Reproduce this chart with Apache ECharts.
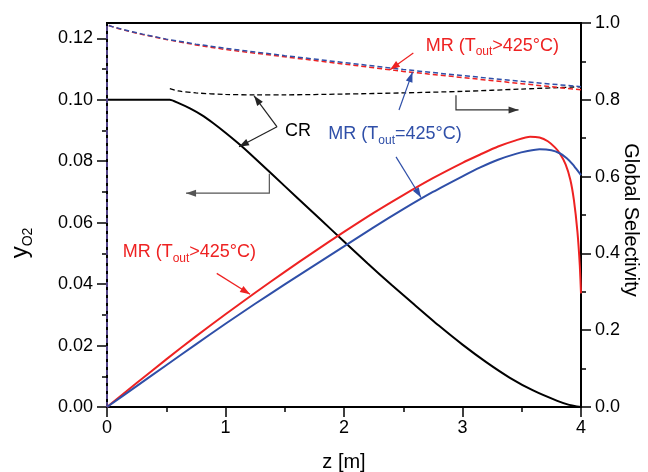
<!DOCTYPE html>
<html><head><meta charset="utf-8">
<script src="https://cdn.jsdelivr.net/npm/echarts@6/dist/echarts.min.js"></script>
<style>html,body{margin:0;padding:0;background:#fff}#c{width:648px;height:472px}</style>
</head><body><div id="c"></div>
<script>
// ---- data ----
// CR: oxygen molar fraction y_O2 (left axis)
const zCR = [0, 0.53, 0.6, 0.7, 0.8, 0.9, 1.0, 1.1, 1.2, 1.4, 1.6, 1.8, 2.0, 2.2, 2.4, 2.6, 2.8, 3.0, 3.2, 3.4, 3.6, 3.8, 3.9, 4.0];
const yCR = [0.1, 0.1, 0.0990, 0.0972, 0.0950, 0.0923, 0.0893, 0.0861, 0.0827, 0.0755, 0.0683, 0.0611, 0.0539, 0.0467, 0.0398, 0.0331, 0.0265, 0.0203, 0.0146, 0.0095, 0.0053, 0.0020, 0.0007, 0];
// MR (Tout>425°C): y_O2 (left axis)
const zMRred = [0, 0.25, 0.5, 0.75, 1.0, 1.25, 1.5, 1.75, 2.0, 2.25, 2.5, 2.75, 3.0, 3.15, 3.3, 3.45, 3.57, 3.65, 3.72, 3.78, 3.82, 3.87, 3.91, 3.94, 3.97, 3.99, 4.0];
const yMRred = [0, 0.0078, 0.0155, 0.0230, 0.0302, 0.0372, 0.0440, 0.0506, 0.0570, 0.0632, 0.0690, 0.0745, 0.0795, 0.0822, 0.0848, 0.0868, 0.0880, 0.0877, 0.0865, 0.0845, 0.0826, 0.0790, 0.0740, 0.0674, 0.0570, 0.0460, 0.0370];
// MR (Tout=425°C): y_O2 (left axis)
const zMRblue = [0, 0.25, 0.5, 0.75, 1.0, 1.25, 1.5, 1.75, 2.0, 2.25, 2.5, 2.75, 3.0, 3.15, 3.3, 3.45, 3.55, 3.65, 3.75, 3.82, 3.88, 3.93, 3.97, 4.0];
const yMRblue = [0, 0.0068, 0.0136, 0.0204, 0.0271, 0.0336, 0.0399, 0.0461, 0.0523, 0.0585, 0.0644, 0.0700, 0.0751, 0.0780, 0.0805, 0.0824, 0.0833, 0.0839, 0.0836, 0.0826, 0.0810, 0.0790, 0.0770, 0.0755];
// Global selectivity (right axis)
const zSelMR = [0, 0, 0.05, 0.1, 0.2, 0.3, 0.5, 0.75, 1.0, 1.5, 2.0, 2.5, 3.0, 3.5, 4.0];
const selMRred = [0, 0.995, 0.990, 0.985, 0.977, 0.970, 0.957, 0.943, 0.931, 0.912, 0.893, 0.874, 0.858, 0.842, 0.826];
const selMRblue = [0, 0.995, 0.990, 0.986, 0.978, 0.971, 0.958, 0.945, 0.934, 0.915, 0.897, 0.879, 0.863, 0.848, 0.834];
const zSelCR = [0.53, 0.6, 0.75, 1.0, 1.25, 1.5, 2.0, 2.5, 3.0, 3.5, 4.0];
const selCR = [0.829, 0.823, 0.818, 0.814, 0.813, 0.813, 0.815, 0.818, 0.822, 0.828, 0.834];
// ticks
const xTicks = [0, 1, 2, 3, 4];
const yLeftTicks = [0, 0.02, 0.04, 0.06, 0.08, 0.10, 0.12];
const yLeftMinor = [0.01, 0.03, 0.05, 0.07, 0.09, 0.11];
const yRightTicks = [0, 0.2, 0.4, 0.6, 0.8, 1.0];

const RED = '#ee2222', BLUE = '#2f4fa8', FONT = 'Liberation Sans';
const pairs = (xs, ys) => xs.map((x, i) => [x, ys[i]]);

const chart = echarts.init(document.getElementById('c'), null, {renderer: 'canvas'});
const tickStyle = {color: '#000', width: 1.5};
const option = {
  backgroundColor: '#fff',
  animation: false,
  grid: {left: 107, right: 67, top: 23, bottom: 65, show: true, borderColor: '#000', borderWidth: 2,
    backgroundColor: 'transparent', containLabel: false, outerBoundsMode: 'none'},
  xAxis: {
    type: 'value', min: 0, max: 4, interval: 1,
    axisLine: {onZero: false, lineStyle: {color: '#000', width: 2}},
    axisTick: {length: 10, lineStyle: tickStyle},
    minorTick: {show: true, splitNumber: 2, length: 5, lineStyle: tickStyle},
    splitLine: {show: false},
    axisLabel: {fontSize: 18, color: '#000', margin: 12, fontFamily: FONT, customValues: xTicks},
    name: 'z [m]', nameLocation: 'middle', nameGap: 45, nameMoveOverlap: false,
    nameTextStyle: {fontSize: 20, color: '#000', fontFamily: FONT}
  },
  yAxis: [
    {
      type: 'value', position: 'left', min: 0, max: 0.125, interval: 0.02,
      axisLine: {onZero: false, lineStyle: {color: '#000', width: 2}},
      axisTick: {length: 10, lineStyle: tickStyle, customValues: yLeftTicks},
      splitLine: {show: false},
      axisLabel: {fontSize: 18, color: '#000', margin: 14, fontFamily: FONT, customValues: yLeftTicks,
        formatter: v => v.toFixed(2)},
      name: '{y|y}{s|O2}', nameLocation: 'middle', nameGap: 72, nameRotate: 90, nameMoveOverlap: false,
      nameTextStyle: {color: '#000', padding: [0, 56, 0, 0],
        rich: {y: {fontSize: 24, fontFamily: FONT, color: '#000', lineHeight: 30},
               s: {fontSize: 14, fontFamily: FONT, color: '#000', lineHeight: 14, verticalAlign: 'bottom'}}}
    },
    {
      type: 'value', position: 'right', min: 0, max: 1, interval: 0.2,
      axisLine: {onZero: false, lineStyle: {color: '#000', width: 2}},
      axisTick: {length: 10, lineStyle: tickStyle},
      minorTick: {show: true, splitNumber: 2, length: 5, lineStyle: tickStyle},
      splitLine: {show: false},
      axisLabel: {fontSize: 18, color: '#000', margin: 14, fontFamily: FONT, customValues: yRightTicks, formatter: v => v.toFixed(1)},
      name: 'Global Selectivity', nameLocation: 'middle', nameGap: 40, nameRotate: -90, nameMoveOverlap: false,
      nameTextStyle: {fontSize: 20, color: '#000', fontFamily: FONT, padding: [0, 0, 0, 10]}
    },
    {
      type: 'value', position: 'left', min: 0, max: 0.125, interval: 0.01,
      axisLine: {show: false}, axisLabel: {show: false}, splitLine: {show: false},
      axisTick: {length: 5, lineStyle: tickStyle, customValues: yLeftMinor}
    }
  ],
  series: [
    {name: 'CR yO2', type: 'line', yAxisIndex: 0, data: pairs(zCR, yCR), showSymbol: false, smooth: 0.2,
     lineStyle: {color: '#000', width: 2}, z: 3},
    {name: 'MR Tout>425 yO2', type: 'line', yAxisIndex: 0, data: pairs(zMRred, yMRred), showSymbol: false, smooth: 0.2,
     lineStyle: {color: RED, width: 2}, z: 3},
    {name: 'MR Tout=425 yO2', type: 'line', yAxisIndex: 0, data: pairs(zMRblue, yMRblue), showSymbol: false, smooth: 0.2,
     lineStyle: {color: BLUE, width: 2}, z: 3},
    {name: 'CR selectivity', type: 'line', yAxisIndex: 1, data: pairs(zSelCR, selCR), showSymbol: false, smooth: 0.3,
     lineStyle: {color: '#000', width: 1.3, type: [5, 3]}, z: 3},
    {name: 'MR Tout>425 selectivity', type: 'line', yAxisIndex: 1, data: pairs(zSelMR, selMRred), showSymbol: false,
     lineStyle: {color: RED, width: 1.5, type: [5, 3]}, z: 3},
    {name: 'MR Tout=425 selectivity', type: 'line', yAxisIndex: 1, data: pairs(zSelMR, selMRblue), showSymbol: false,
     lineStyle: {color: BLUE, width: 1.5, type: [5, 3]}, z: 3}
  ]
};
chart.setOption(option);

// ---- annotations, positioned in data units (z, y_O2) ----
const annTexts = [
  {pos: [2.689, 0.1176], color: RED, main1: 'MR (T', sub: 'out', main2: '>425°C)'},
  {pos: [1.868, 0.0887], color: BLUE, main1: 'MR (T', sub: 'out', main2: '=425°C)'},
  {pos: [0.132, 0.0503], color: RED, main1: 'MR (T', sub: 'out', main2: '>425°C)'},
  {pos: [1.502, 0.0899], color: '#000', main1: 'CR', sub: '', main2: ''}
];
const annArrows = [
  {pts: [[2.585, 0.1152], [2.388, 0.1098]], color: RED},
  {pts: [[2.464, 0.0967], [2.578, 0.1090]], color: BLUE},
  {pts: [[2.439, 0.0814], [2.650, 0.0682]], color: BLUE},
  {pts: [[0.926, 0.0435], [1.207, 0.0367]], color: RED},
  {pts: [[1.435, 0.0912], [1.241, 0.1013]], color: '#222'},
  {pts: [[1.435, 0.0912], [1.114, 0.0847]], color: '#222'},
  {pts: [[1.370, 0.0759], [1.370, 0.0696], [0.667, 0.0696]], color: '#555'},
  {pts: [[2.945, 0.1015], [2.945, 0.0967], [3.473, 0.0967]], color: '#333'}
];
const px = p => chart.convertToPixel({xAxisIndex: 0, yAxisIndex: 0}, p);
const graphics = [];
annTexts.forEach(t => {
  const p = px(t.pos);
  let txt = '{a|' + t.main1 + '}';
  if (t.sub) txt += '{s|' + t.sub + '}{a|' + t.main2 + '}';
  graphics.push({type: 'text', x: p[0], y: p[1], z: 10,
    style: {text: txt, fill: t.color, verticalAlign: 'middle', align: 'left',
      rich: {a: {fontSize: 18, fontFamily: FONT, fill: t.color, lineHeight: 24},
             s: {fontSize: 12, fontFamily: FONT, fill: t.color, lineHeight: 12, verticalAlign: 'bottom'}}}});
});
annArrows.forEach(a => {
  const pts = a.pts.map(px);
  graphics.push({type: 'polyline', z: 10, shape: {points: pts}, style: {stroke: a.color, lineWidth: 1.2, fill: null}});
  const tip = pts[pts.length - 1], prev = pts[pts.length - 2];
  const dx = tip[0] - prev[0], dy = tip[1] - prev[1], L = Math.hypot(dx, dy);
  const ux = dx / L, uy = dy / L, len = 10, hw = 3.5;
  const bx = tip[0] - ux * len, by = tip[1] - uy * len;
  graphics.push({type: 'polygon', z: 10, shape: {points: [tip, [bx - uy * hw, by + ux * hw], [bx + uy * hw, by - ux * hw]]},
    style: {fill: a.color, stroke: null}});
});
chart.setOption({graphic: graphics});
</script>
</body></html>
